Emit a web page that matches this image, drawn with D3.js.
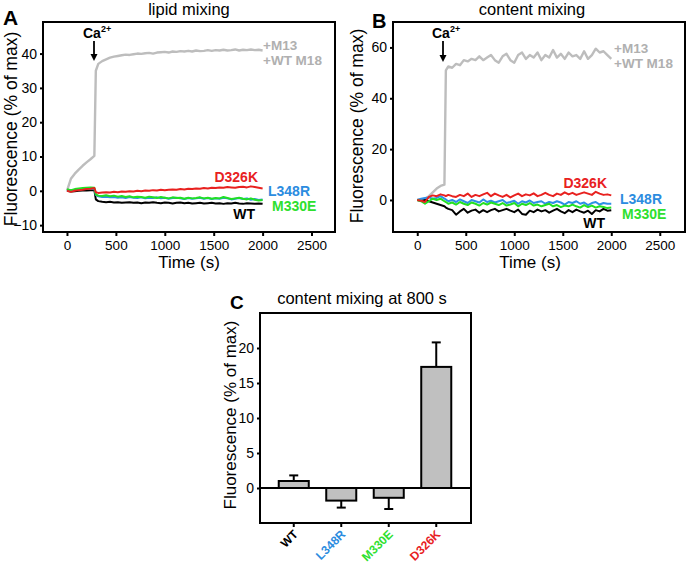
<!DOCTYPE html>
<html>
<head>
<meta charset="utf-8">
<script src="https://cdn.jsdelivr.net/npm/d3@7"></script>
<style>
  html, body { margin: 0; padding: 0; background: #fff; }
  svg { display: block; font-family: "Liberation Sans", Arial, sans-serif; }
</style>
</head>
<body>
<svg id="chart" width="688" height="563"></svg>
<script>
// ---------- DATA ----------
const times = [0, 40, 80, 120, 160, 200, 240, 280, 295,
  320, 360, 400, 440, 480, 520, 560, 600, 640, 680, 720, 760, 800, 840, 880, 920, 960, 1000,
  1040, 1080, 1120, 1160, 1200, 1240, 1280, 1320, 1360, 1400, 1440, 1480, 1520, 1560, 1600,
  1640, 1680, 1720, 1760, 1800, 1840, 1880, 1920, 1960, 2000];

// Panel A: lipid mixing (% of max)
const lipidM13 = [0, 3.5, 5.0, 6.2, 7.3, 8.3, 9.2, 10.2, 35.0,
  37.0, 37.8, 38.3, 38.8, 39.1, 39.3, 39.5, 39.7, 39.6, 39.8, 40.0, 39.9, 40.1, 40.2, 40.0, 40.3,
  40.4, 40.5, 40.3, 40.6, 40.5, 40.7, 40.6, 40.8, 40.6, 40.9, 40.7, 40.8, 41.0, 40.8, 41.0, 40.9,
  41.1, 40.9, 41.0, 41.2, 40.9, 41.1, 41.0, 41.2, 41.0, 41.1, 40.9];
const lipidWT = [0, -0.2, -0.1, 0, 0.1, 0.1, 0.2, 0.2, -2.5,
  -3.0, -3.2, -3.3, -3.2, -3.4, -3.3, -3.5, -3.4, -3.3, -3.5, -3.4, -3.6, -3.4, -3.5, -3.3, -3.5,
  -3.6, -3.4, -3.5, -3.7, -3.5, -3.4, -3.6, -3.5, -3.7, -3.6, -3.5, -3.7, -3.6, -3.5, -3.7, -3.6,
  -3.8, -3.6, -3.7, -3.5, -3.7, -3.8, -3.6, -3.7, -3.8, -3.7, -3.8];
const lipidL348R = [0, 0.2, 0.3, 0.4, 0.5, 0.5, 0.6, 0.6, -1.2,
  -1.6, -1.8, -1.7, -1.9, -1.8, -2.0, -1.9, -2.1, -1.8, -2.0, -2.1, -1.9, -2.2, -2.0, -2.1, -1.9,
  -2.2, -2.0, -2.3, -2.1, -2.0, -2.2, -2.4, -2.1, -2.3, -2.2, -2.0, -2.3, -2.1, -2.4, -2.2, -2.3,
  -2.0, -2.2, -2.5, -2.3, -2.1, -2.4, -2.2, -2.6, -2.4, -2.7, -2.5];
const lipidM330E = [0.5, 0.2, 0.5, 0.7, 0.8, 0.9, 1.0, 0.9, -1.0,
  -1.4, -1.5, -1.3, -1.6, -1.4, -1.7, -1.5, -1.8, -1.6, -1.9, -1.7, -1.8, -2.0, -1.7, -1.9, -2.1,
  -1.8, -2.0, -2.2, -1.9, -2.1, -2.0, -2.3, -2.0, -2.2, -2.1, -1.9, -2.2, -2.0, -2.3, -2.1, -2.2,
  -1.8, -2.1, -2.4, -2.2, -2.0, -2.3, -2.5, -2.2, -2.6, -2.8, -2.7];
const lipidD326K = [0, -0.3, 0, 0.2, 0.3, 0.5, 0.6, 0.8, -0.4,
  -0.6, -0.5, -0.4, -0.5, -0.3, -0.4, -0.2, -0.3, -0.1, -0.2, 0, -0.1, 0.1, 0, 0.2, 0.1,
  0.3, 0.2, 0.3, 0.4, 0.3, 0.5, 0.4, 0.6, 0.5, 0.7, 0.6, 0.8, 0.7, 0.9, 0.8, 1.0,
  0.9, 1.1, 1.0, 0.9, 1.1, 1.2, 1.0, 1.3, 1.1, 0.9, 0.7];

// Panel B: content mixing (% of max)
const contentM13 = [0, 0.2, 0.5, 1.5, 3.0, 4.5, 5.5, 6.0, 51.0,
  52.5, 52.0, 53.5, 53.0, 55.0, 54.5, 55.5, 55.0, 56.5, 55.0, 56.0, 57.0, 55.0, 54.0, 56.5, 57.5,
  55.0, 54.0, 57.0, 58.0, 55.5, 57.0, 56.0, 58.0, 55.0, 57.0, 56.0, 59.0, 56.0, 57.5, 55.5, 58.0,
  56.5, 57.0, 55.5, 58.5, 55.5, 57.0, 59.5, 58.0, 58.5, 57.0, 55.5];
const contentWT = [0, -0.3, 0, -0.5, -1.0, -1.5, -2.0, -2.5, -3.0,
  -3.5, -4.0, -5.8, -4.5, -3.5, -5.0, -4.2, -3.8, -5.0, -4.0, -4.8, -4.0, -3.5, -4.5, -4.0, -3.5,
  -4.2, -4.8, -3.8, -5.5, -5.8, -4.2, -4.8, -3.8, -4.5, -4.0, -5.0, -4.2, -3.5, -4.5, -5.2, -4.0,
  -4.8, -3.8, -4.5, -5.0, -4.2, -5.5, -4.0, -4.5, -3.5, -4.2, -4.0];
const contentL348R = [0, 0.5, 0.8, 1.0, 0.5, 0.8, 1.5, 0.5, 0.2,
  -0.5, 0, -0.8, 0.2, -0.5, -1.2, 0, -0.5, -1.0, 0.2, -0.8, -0.3, -1.0, -0.5, 0, -1.2,
  -0.8, -0.3, -1.5, -0.5, -1.0, -0.2, -1.2, -0.8, -0.5, -1.5, -0.8, -1.2, -0.5, -1.0, -1.8, -0.8,
  -1.2, -0.5, -1.5, -1.0, -2.0, -1.2, -0.8, -1.8, -1.2, -1.5, -1.5];
const contentM330E = [0, -0.5, -1.5, -0.5, 0.5, 0, 0.5, -0.5, -0.8,
  -1.5, -1.0, -1.8, -0.8, -1.5, -2.0, -1.0, -1.5, -2.2, -1.2, -1.8, -1.0, -1.5, -2.0, -1.2, -2.2,
  -1.8, -1.2, -2.5, -1.5, -2.0, -1.2, -2.2, -1.8, -2.5, -2.0, -1.5, -2.5, -2.0, -2.8, -2.2, -2.5,
  -1.8, -2.5, -3.0, -2.0, -2.8, -2.2, -3.0, -2.5, -2.8, -3.2, -3.0];
const contentD326K = [0, -0.3, -0.8, 1.2, 1.8, 1.5, 2.2, 1.8, 1.5,
  2.0, 1.5, 1.2, 2.0, 1.5, 2.5, 1.2, 2.0, 1.5, 2.2, 2.8, 1.5, 2.5, 1.8, 1.2, 2.0,
  1.0, 1.8, 2.5, 1.5, 2.2, 1.8, 2.6, 1.5, 2.0, 2.8, 2.0, 1.5, 2.5, 2.0, 3.0, 2.2,
  2.8, 2.0, 2.5, 3.0, 2.5, 2.0, 3.2, 2.5, 2.0, 2.2, 1.8];

// Panel C: content mixing at 800 s
const barCategories = ["WT", "L348R", "M330E", "D326K"];
const barValues = [1.0, -1.8, -1.4, 17.3];
const barErrors = [0.8, 1.0, 1.6, 3.5];

const timeTicks = [0, 500, 1000, 1500, 2000, 2500];
const lipidTicks = [-10, 0, 10, 20, 30, 40];
const contentTicks = [0, 20, 40, 60];
const barTicks = [0, 5, 10, 15, 20];

// ---------- STYLE ----------
const colors = { M13: "#bdbdbd", WT: "#000000", L348R: "#2e8fe6", M330E: "#22e022", D326K: "#e8211f" };
const labelColors = { M13: "#b0b0b0", WT: "#000000", L348R: "#2b8ce0", M330E: "#2ee02e", D326K: "#e8211f" };
const FONT = "'Liberation Sans', Arial, sans-serif";

const svg = d3.select("#chart");

function styleAxis(g, fontSize) {
  g.select(".domain").remove();
  g.selectAll(".tick line").attr("stroke", "#000").attr("stroke-width", 2);
  g.selectAll(".tick text").attr("font-size", fontSize).attr("fill", "#000").attr("font-family", FONT);
}

function frame(x0, y0, x1, y1) {
  svg.append("rect").attr("x", x0).attr("y", y0).attr("width", x1 - x0).attr("height", y1 - y0)
    .attr("fill", "none").attr("stroke", "#000").attr("stroke-width", 2);
}

function text(x, y, str, opts = {}) {
  const t = svg.append("text").attr("x", x).attr("y", y).text(str)
    .attr("font-family", FONT)
    .attr("font-size", opts.size || 14)
    .attr("font-weight", opts.bold ? "bold" : "normal")
    .attr("fill", opts.color || "#000")
    .attr("text-anchor", opts.anchor || "start");
  if (opts.rotate !== undefined) t.attr("transform", `rotate(${opts.rotate},${x},${y})`);
  return t;
}

function caLabel(x, y, ax, ayTop, ayTip) {
  const t = svg.append("text").attr("x", x).attr("y", y).attr("font-family", FONT)
    .attr("font-weight", "bold").attr("font-size", 14).attr("fill", "#000");
  t.append("tspan").text("Ca");
  t.append("tspan").text("2+").attr("font-size", 9).attr("dy", -6);
  svg.append("line").attr("x1", ax).attr("x2", ax).attr("y1", ayTop).attr("y2", ayTip - 5)
    .attr("stroke", "#000").attr("stroke-width", 1.8);
  svg.append("path").attr("d", `M${ax - 3.5},${ayTip - 7} L${ax + 3.5},${ayTip - 7} L${ax},${ayTip} Z`)
    .attr("fill", "#000");
}

function timePanel(cfg) {
  const { x, y, series } = cfg;
  frame(x.range()[0], y.range()[1], x.range()[1], y.range()[0]);
  const gx = svg.append("g").attr("transform", `translate(0,${y.range()[0]})`)
    .call(d3.axisBottom(x).tickValues(timeTicks).tickSize(4).tickPadding(4).tickFormat(d3.format("d")));
  styleAxis(gx, 13.5);
  const gy = svg.append("g").attr("transform", `translate(${x.range()[0]},0)`)
    .call(d3.axisLeft(y).tickValues(cfg.yTicks).tickSize(3).tickPadding(3).tickFormat(d3.format("d")));
  styleAxis(gy, 14);
  const line = d3.line().x((d, i) => x(times[i])).y(d => y(d));
  series.forEach(s => {
    svg.append("path").datum(s.values).attr("d", line)
      .attr("fill", "none").attr("stroke", colors[s.key])
      .attr("stroke-width", s.key === "M13" ? 2.4 : 2).attr("stroke-linejoin", "round");
  });
}

// ---------- PANEL A ----------
const xA = d3.scaleLinear().domain([-245, 2740]).range([43, 335]);
const yA = d3.scaleLinear().domain([-12, 49.2]).range([232, 22]);
timePanel({
  x: xA, y: yA, yTicks: lipidTicks,
  series: [
    { key: "M13", values: lipidM13 },
    { key: "WT", values: lipidWT },
    { key: "L348R", values: lipidL348R },
    { key: "M330E", values: lipidM330E },
    { key: "D326K", values: lipidD326K }
  ]
});
text(189, 15, "lipid mixing", { size: 16.5, anchor: "middle" });
text(3, 25, "A", { size: 21, bold: true });
text(17, 129, "Fluorescence (% of max)", { size: 17.5, anchor: "middle", rotate: -90 });
text(189, 268, "Time (s)", { size: 17, anchor: "middle" });
caLabel(83, 38, 94, 41, 61);
text(263, 50, "+M13", { size: 13.5, bold: true, color: labelColors.M13 });
text(263, 65, "+WT M18", { size: 13.5, bold: true, color: labelColors.M13 });
text(258, 182, "D326K", { size: 14, bold: true, color: labelColors.D326K, anchor: "end" });
text(268, 196, "L348R", { size: 14, bold: true, color: labelColors.L348R });
text(272, 211, "M330E", { size: 14, bold: true, color: labelColors.M330E });
text(255, 219, "WT", { size: 14, bold: true, color: labelColors.WT, anchor: "end" });

// ---------- PANEL B ----------
const xB = d3.scaleLinear().domain([-250, 2760]).range([393, 685]);
const yB = d3.scaleLinear().domain([-12.6, 70]).range([232, 22]);
timePanel({
  x: xB, y: yB, yTicks: contentTicks,
  series: [
    { key: "M13", values: contentM13 },
    { key: "WT", values: contentWT },
    { key: "L348R", values: contentL348R },
    { key: "M330E", values: contentM330E },
    { key: "D326K", values: contentD326K }
  ]
});
text(532, 15, "content mixing", { size: 16.5, anchor: "middle" });
text(372, 28, "B", { size: 20, bold: true });
text(363, 126, "Fluorescence (% of max)", { size: 17.5, anchor: "middle", rotate: -90 });
text(530, 268, "Time (s)", { size: 17, anchor: "middle" });
caLabel(432, 38, 443, 41, 62);
text(614, 53, "+M13", { size: 13.5, bold: true, color: labelColors.M13 });
text(614, 68, "+WT M18", { size: 13.5, bold: true, color: labelColors.M13 });
text(607, 188, "D326K", { size: 14, bold: true, color: labelColors.D326K, anchor: "end" });
text(620, 204, "L348R", { size: 14, bold: true, color: labelColors.L348R });
text(622, 219, "M330E", { size: 14, bold: true, color: labelColors.M330E });
text(605, 228, "WT", { size: 14, bold: true, color: labelColors.WT, anchor: "end" });

// ---------- PANEL C ----------
const xC = d3.scaleBand().domain(barCategories).range([270, 460]).paddingInner(0.368).paddingOuter(0.184);
const yC = d3.scaleLinear().domain([-5, 25]).range([523, 313]);

frame(260, 313, 471, 523);
const gyC = svg.append("g").attr("transform", "translate(260,0)")
  .call(d3.axisLeft(yC).tickValues(barTicks).tickSize(3).tickPadding(3).tickFormat(d3.format("d")));
styleAxis(gyC, 14);
const gxC = svg.append("g").attr("transform", "translate(0,523)")
  .call(d3.axisBottom(xC).tickSize(4).tickFormat(""));
styleAxis(gxC, 13);

// error bars (drawn first so bar outline sits on top)
barCategories.forEach((c, i) => {
  const cx = xC(c) + xC.bandwidth() / 2;
  const v = barValues[i], e = barErrors[i];
  const end = v >= 0 ? v + e : v - e;
  svg.append("line").attr("x1", cx).attr("x2", cx).attr("y1", yC(v)).attr("y2", yC(end))
    .attr("stroke", "#000").attr("stroke-width", 2);
  svg.append("line").attr("x1", cx - 4.5).attr("x2", cx + 4.5).attr("y1", yC(end)).attr("y2", yC(end))
    .attr("stroke", "#000").attr("stroke-width", 2);
});
svg.selectAll("rect.bar").data(barValues).join("rect").attr("class", "bar")
  .attr("x", (d, i) => xC(barCategories[i]))
  .attr("width", xC.bandwidth())
  .attr("y", d => yC(Math.max(0, d)))
  .attr("height", d => Math.abs(yC(d) - yC(0)))
  .attr("fill", "#c0c0c0").attr("stroke", "#000").attr("stroke-width", 2);
svg.append("line").attr("x1", 260).attr("x2", 471).attr("y1", yC(0)).attr("y2", yC(0))
  .attr("stroke", "#000").attr("stroke-width", 2);

barCategories.forEach((c) => {
  const cx = xC(c) + xC.bandwidth() / 2;
  text(cx + 5, 535, c, { size: 12, bold: true, color: labelColors[c], anchor: "end", rotate: -45 });
});

text(362, 304, "content mixing at 800 s", { size: 16.5, anchor: "middle" });
text(230, 309, "C", { size: 19, bold: true });
text(236, 415, "Fluorescence (% of max)", { size: 17, anchor: "middle", rotate: -90 });
</script>
</body>
</html>
